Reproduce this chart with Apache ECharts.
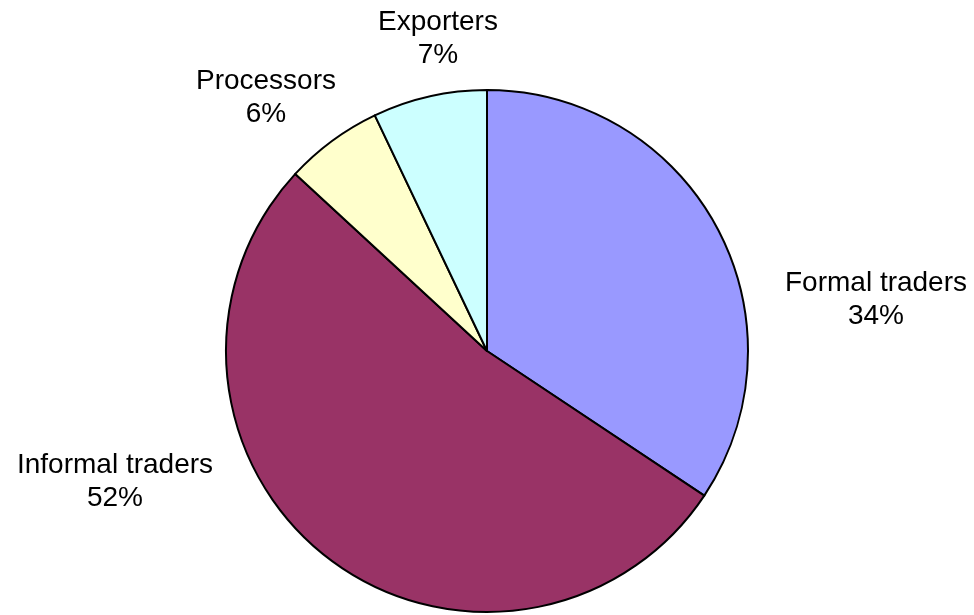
<!DOCTYPE html>
<html>
<head>
<meta charset="utf-8">
<script src="https://cdn.jsdelivr.net/npm/echarts@6/dist/echarts.min.js"></script>
<style>
html,body{margin:0;padding:0;background:#fff;}
#chart{width:974px;height:615px;}
</style>
</head>
<body>
<div id="chart"></div>
<script>
// Data
var categories = ['Formal traders', 'Informal traders', 'Processors', 'Exporters'];
var values = [34, 52, 6, 7];
var colors = ['#9999FF', '#993366', '#FFFFCC', '#CCFFFF'];

// Label anchor positions (layout only)
var labelPos = [[876, 300], [115, 482], [266, 98], [438, 39]];

var chart = echarts.init(document.getElementById('chart'));
var data = categories.map(function (c, i) {
  return { name: c, value: values[i], itemStyle: { color: colors[i] } };
});
chart.setOption({
  animation: false,
  series: [{
    type: 'pie',
    center: [487, 351],
    radius: 261,
    startAngle: 90,
    clockwise: true,
    avoidLabelOverlap: false,
    itemStyle: { borderColor: '#000', borderWidth: 2 },
    label: {
      show: true,
      position: 'outside',
      formatter: '{b}\n{c}%',
      color: '#000',
      fontSize: 28,
      lineHeight: 33,
      fontFamily: '"Liberation Sans", Arial, sans-serif',
      align: 'center'
    },
    labelLine: { show: false },
    emphasis: { disabled: true },
    labelLayout: function (params) {
      var p = labelPos[params.dataIndex];
      return { x: p[0], y: p[1], align: 'center', verticalAlign: 'middle' };
    },
    data: data
  }]
});
</script>
</body>
</html>
